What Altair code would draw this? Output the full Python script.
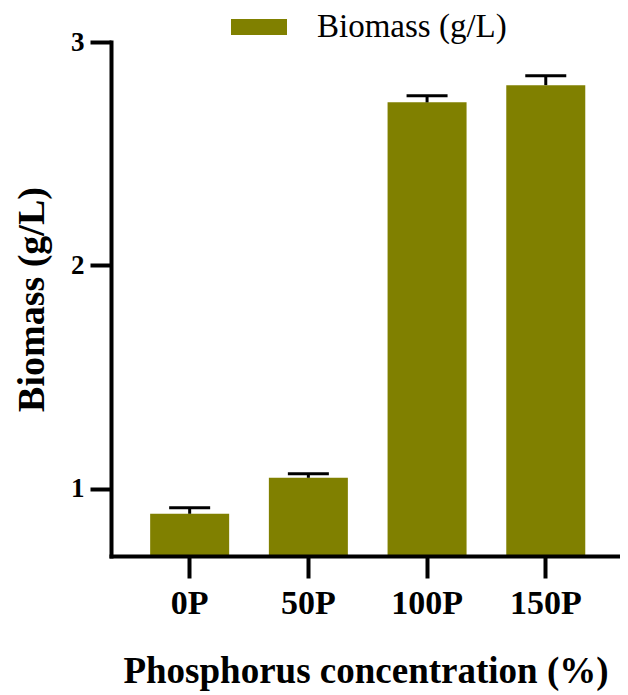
import altair as alt
import pandas as pd

categories = ["0P", "50P", "100P", "150P"]
biomass = [0.889, 1.050, 2.730, 2.807]
errors = [0.027, 0.018, 0.029, 0.042]
series_name = "Biomass (g/L)"

df = pd.DataFrame({
    "cat": categories,
    "val": biomass,
    "top": [v + e for v, e in zip(biomass, errors)],
    "series": [series_name] * len(categories),
})

FONT = "Liberation Serif"
OLIVE = "#808000"

xscale = alt.Scale(paddingInner=0.334, paddingOuter=0.311, align=0.53)
xenc = alt.X(
    "cat:N",
    sort=categories,
    scale=xscale,
    axis=alt.Axis(
        title="Phosphorus concentration (%)",
        titleFont=FONT, titleFontSize=37, titleFontWeight="bold", titleColor="black",
        titleY=115, titleBaseline="middle",
        labelFont=FONT, labelFontSize=34, labelFontWeight="bold", labelColor="black",
        labelAngle=0, labelPadding=8,
        tickSize=22, tickWidth=4, tickColor="black",
        domainWidth=4, domainColor="black", domainCap="square",
        zindex=1,
    ),
)

yscale = alt.Scale(domain=[0.7, 3], zero=False, nice=False)
yaxis = alt.Axis(
    title="Biomass (g/L)",
    titleFont=FONT, titleFontSize=38, titleFontWeight="bold", titleColor="black",
    titleX=-79, titleY=257, titleAngle=-90, titleBaseline="middle", titleAlign="center",
    labelFont=FONT, labelFontSize=27, labelFontWeight="bold", labelColor="black",
    labelPadding=6, values=[1, 2, 3], format="d", grid=False,
    tickSize=21, tickWidth=4, tickColor="black",
    domainWidth=4, domainColor="black", domainCap="square",
    zindex=1,
)

bars = alt.Chart(df).mark_bar(size=79, clip=True).encode(
    x=xenc,
    y=alt.Y("val:Q", scale=yscale, axis=yaxis),
    fill=alt.Fill(
        "series:N",
        scale=alt.Scale(domain=[series_name], range=[OLIVE]),
        legend=alt.Legend(
            title=None, orient="none", legendX=120, legendY=-43,
            symbolType="M-1,-0.29L1,-0.29L1,0.29L-1,0.29Z", symbolSize=3136,
            symbolStrokeWidth=0, symbolOpacity=1,
            labelFont=FONT, labelFontSize=33, labelColor="black", labelOffset=30,
            labelLimit=400,
        ),
    ),
)

stems = alt.Chart(df).mark_rule(color="black", strokeWidth=3).encode(
    x=alt.X("cat:N", sort=categories),
    y=alt.Y("val:Q", scale=yscale),
    y2="top:Q",
)

caps = alt.Chart(df).mark_tick(color="black", thickness=3, size=41, opacity=1).encode(
    x=alt.X("cat:N", sort=categories),
    y=alt.Y("top:Q", scale=yscale),
)

chart = alt.layer(bars, stems, caps).properties(
    width=509, height=514,
    autosize=alt.AutoSizeParams(type="none"),
    padding={"left": 103, "top": 34, "right": 0, "bottom": 138},
).configure_view(stroke=None)

chart.save("out.html", embed_options={"renderer": "svg", "actions": False})
